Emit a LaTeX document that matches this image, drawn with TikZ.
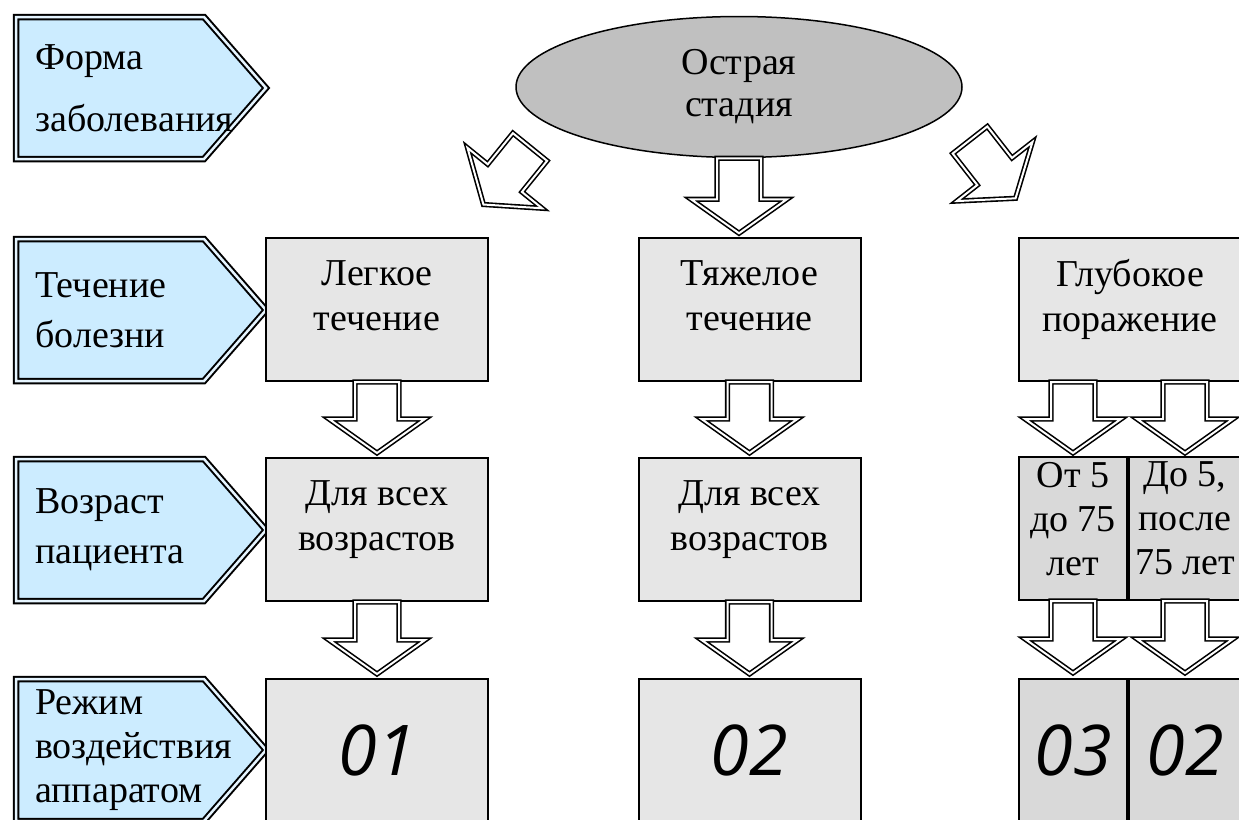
\documentclass[tikz,border=0pt]{standalone}
\usepackage{fontspec}
\setmainfont{Liberation Serif}
\newfontfamily\cifry{Open Sans}
\usetikzlibrary{shapes.geometric}
\definecolor{goluboy}{HTML}{CCECFF}
\definecolor{seryy}{HTML}{E6E6E6}
\definecolor{seryyT}{HTML}{D9D9D9}
\definecolor{ovalSer}{HTML}{C0C0C0}

\begin{document}
\begin{tikzpicture}[x=1pt, y=-1pt,
    every node/.style={font=\fontsize{38}{45}\selectfont},
    metkaf/.style={draw=black, line width=2pt, double=goluboy!50!white, double distance=2.5pt, fill=goluboy},
    metkat/.style={anchor=west, inner sep=0pt, align=left},
    blok/.style={rectangle, draw=black, line width=2pt, fill=seryy, minimum width=222pt, minimum height=143pt, inner xsep=2pt, align=center, text depth=28pt},
    blokt/.style={blok, fill=seryyT},
    oval/.style={ellipse, draw=black, line width=1.5pt, fill=ovalSer, minimum width=446pt, minimum height=141pt, inner sep=0pt, align=center},
    cifra/.style={font=\cifry\itshape\fontsize{70}{70}\selectfont, text depth=0pt},
    strelkaf/.style={draw=black, line width=1.6pt, double=white, double distance=2pt, fill=white},
    pics/metka/.style={code={\path[metkaf] (16,-71) -- (204,-71) -- (266,0) -- (204,71) -- (16,71) -- cycle;}},
    pics/strelka/.style={code={\path[strelkaf] (-22,0) -- (22,0) -- (22,#1-34) -- (48,#1-34) -- (0,#1) -- (-48,#1-34) -- (-22,#1-34) -- cycle;}}
  ]
  \useasboundingbox (0,0) rectangle (1239,819);
  \clip (0,0) rectangle (1239,819);

  % Levaya kolonka: metki urovney
  \pic at (0,88) {metka};
  \node[metkat, font=\fontsize{38}{62}\selectfont] (forma) at (35,88) {Форма\\заболевания};
  \pic at (0,310) {metka};
  \node[metkat, font=\fontsize{38}{50}\selectfont] (tech) at (35,310) {Течение\\болезни};
  \pic at (0,530) {metka};
  \node[metkat, font=\fontsize{38}{50}\selectfont] (vozr) at (35,530) {Возраст\\пациента};
  \pic at (0,750) {metka};
  \node[metkat, font=\fontsize{38}{44}\selectfont] (rezh) at (35,750) {Режим\\воздействия\\аппаратом};

  % Verh: stadiya
  \node[oval, font=\fontsize{38}{42}\selectfont] (ostr) at (739,87) {Острая\\стадия};

  % Techenie bolezni
  \node[blok] (leg) at (377,309.5) {Легкое\\течение};
  \node[blok] (tyazh) at (749.5,309.5) {Тяжелое\\течение};
  \node[blok] (glub) at (1130,309.5) {Глубокое\\поражение};

  % Vozrast
  \node[blok] (vse1) at (377,529.5) {Для всех\\возрастов};
  \node[blok] (vse2) at (749.5,529.5) {Для всех\\возрастов};
  \node[blokt, minimum width=108pt, font=\fontsize{38}{44}\selectfont, text depth=20pt] (ot5) at (1073,528.5) {От 5\\до 75\\лет};
  \node[blokt, minimum width=112pt, font=\fontsize{38}{44}\selectfont, text depth=20pt] (do5) at (1185,528.5) {До 5,\\после\\75 лет};

  % Rezhimy
  \node[blok, cifra] (r01) at (377,750.5) {01};
  \node[blok, cifra] (r02) at (749.5,750.5) {02};
  \node[blokt, cifra, minimum width=108pt] (r03) at (1073,750.5) {03};
  \node[blokt, cifra, minimum width=112pt] (r02b) at (1185,750.5) {02};

  % Strelki
  \pic[rotate=-39] at ([shift={(-209,60)}]ostr.center) {strelka=74};
  \pic at (ostr.south) {strelka=75};
  \pic[rotate=38] at ([shift={(231,53)}]ostr.center) {strelka=74};
  \pic at (leg.south) {strelka=71};
  \pic at (tyazh.south) {strelka=71};
  \pic at (glub.south -| ot5.north) {strelka=71};
  \pic at (glub.south -| do5.north) {strelka=71};
  \pic at (vse1.south) {strelka=72};
  \pic at (vse2.south) {strelka=72};
  \pic at (ot5.south) {strelka=72};
  \pic at (do5.south) {strelka=72};
\end{tikzpicture}
\end{document}
